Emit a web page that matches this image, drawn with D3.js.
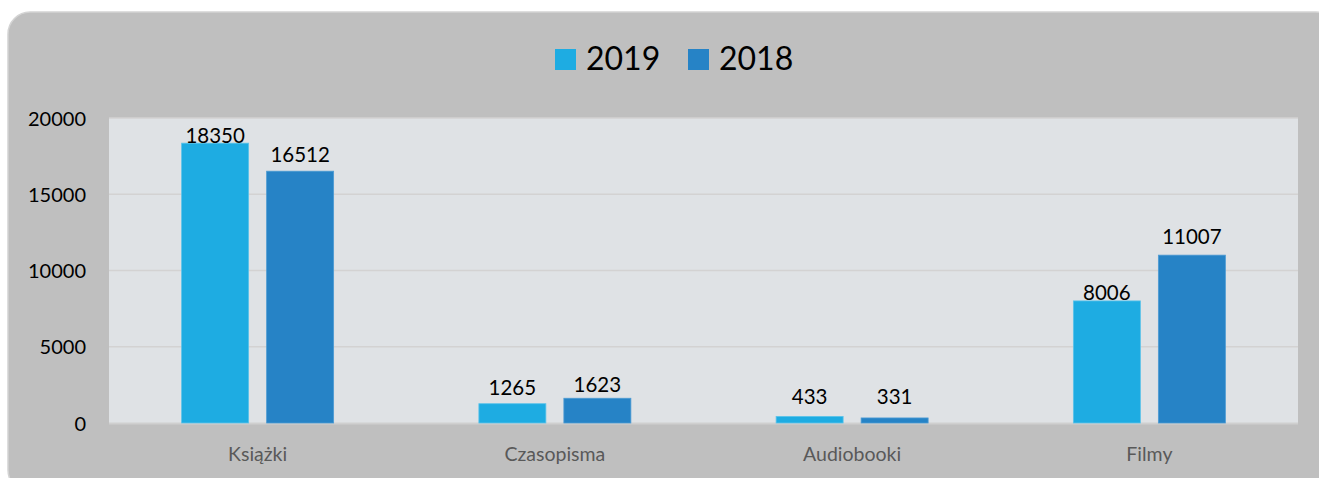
<!DOCTYPE html>
<html><head><meta charset="utf-8">
<script src="https://cdn.jsdelivr.net/npm/d3@7/dist/d3.min.js"></script>
<style>html,body{margin:0;padding:0;background:#fff;}svg{display:block;}</style>
</head><body>
<svg id="chart" width="1319" height="478"></svg>
<script>
const categories = ["Książki", "Czasopisma", "Audiobooki", "Filmy"];
const seriesNames = ["2019", "2018"];
const values2019 = [18350, 1265, 433, 8006];
const values2018 = [16512, 1623, 331, 11007];
const yTicks = [0, 5000, 10000, 15000, 20000];

// styling
const colors = ["#1eace2", "#2683c6"];
const labelDy = [[0, -9], [-9, -6], [-12, -14], [-1, -11]];
const font = "Lato, 'Open Sans', sans-serif";

const svg = d3.select("#chart");
svg.append("rect").attr("x", 8).attr("y", 12).attr("width", 1330).attr("height", 480)
  .attr("rx", 22).attr("fill", "#bfbfbf").attr("stroke", "#d4d4d4").attr("stroke-width", 1.5);

const plot = {left: 109, right: 1298, top: 118, bottom: 423};
const x = d3.scaleBand().domain(categories).range([plot.left, plot.right]);
const y = d3.scaleLinear().domain([0, 20000]).range([plot.bottom, plot.top]);
const barW = 67, inner = 18;
const x1 = d3.scaleBand().domain(seriesNames)
  .range([-(barW + inner/2), barW + inner/2]).paddingInner(inner / (barW + inner)).paddingOuter(0);

svg.append("rect").attr("x", plot.left).attr("y", plot.top)
  .attr("width", plot.right - plot.left).attr("height", plot.bottom - plot.top).attr("fill", "#dfe2e5");

// gridlines
svg.append("g").selectAll("line").data(yTicks.slice(1)).join("line")
  .attr("x1", plot.left).attr("x2", plot.right)
  .attr("y1", d => y(d)).attr("y2", d => y(d))
  .attr("stroke", "#d3d2d2").attr("stroke-width", 1.5);
svg.append("line").attr("x1", plot.left).attr("x2", plot.right)
  .attr("y1", y(0) + 0.5).attr("y2", y(0) + 0.5).attr("stroke", "#cfcfcf").attr("stroke-width", 2);

// y axis
const yAxis = d3.axisLeft(y).tickValues(yTicks).tickSize(0).tickPadding(0).tickFormat(d3.format("d"));
const ya = svg.append("g").attr("transform", `translate(86,0)`).call(yAxis);
ya.select(".domain").remove();
ya.selectAll("text").attr("font-family", font).attr("font-size", 20).attr("fill", "#000").attr("dy", "0.36em");

// x axis
const xAxis = d3.axisBottom(x).tickSize(0).tickPadding(0);
const xa = svg.append("g").attr("transform", `translate(0,461)`).call(xAxis);
xa.select(".domain").remove();
xa.selectAll("text").attr("font-family", font).attr("font-size", 19.5).attr("fill", "#595959").attr("dy", 0);

// bars
const data = categories.map((c, i) => ({cat: c, i, vals: [values2019[i], values2018[i]]}));
const groups = svg.append("g").selectAll("g").data(data).join("g")
  .attr("transform", d => `translate(${x(d.cat) + x.bandwidth()/2},0)`);
groups.selectAll("rect").data(d => d.vals.map((v, s) => ({v, s}))).join("rect")
  .attr("x", d => x1(seriesNames[d.s])).attr("width", x1.bandwidth())
  .attr("y", d => y(d.v)).attr("height", d => y(0) - y(d.v))
  .attr("fill", d => colors[d.s]).attr("stroke", d => d.s === 0 ? "#5cc3ea" : "#4d9bd3").attr("stroke-width", 0.8);
groups.selectAll("text").data(d => d.vals.map((v, s) => ({v, s, i: d.i}))).join("text")
  .attr("x", d => x1(seriesNames[d.s]) + x1.bandwidth()/2)
  .attr("y", d => y(d.v) + labelDy[d.i][d.s])
  .attr("text-anchor", "middle").attr("font-family", font).attr("font-size", 20.5).attr("fill", "#000")
  .text(d => d.v);

// legend
const lg = svg.append("g");
const legX = [555, 688];
seriesNames.forEach((s, k) => {
  lg.append("rect").attr("x", legX[k]).attr("y", 49).attr("width", 21).attr("height", 21).attr("fill", colors[k]);
  lg.append("text").attr("x", legX[k] + 31).attr("y", 70).attr("font-family", font).attr("font-size", 32).attr("fill", "#000").text(s);
});
</script>
</body></html>
